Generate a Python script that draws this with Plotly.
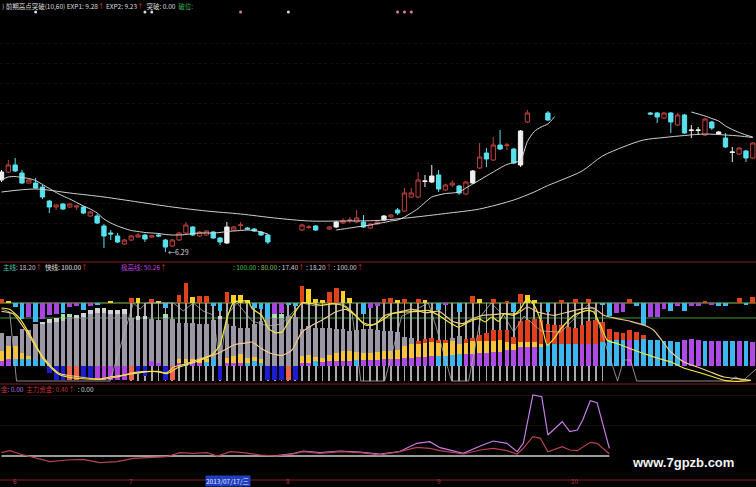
import plotly.graph_objects as go

W, H = 756, 487

# ---------------- price panel (candles) ----------------
OPEN = [7.73, 7.89, 8.03, 7.87, 7.67, 7.67, 7.59, 7.31, 7.19, 7.25,
        7.19, 7.19, 7.19, 7.01, 7.01, 6.81, 6.67, 6.61, 6.45, 6.53,
        6.59, 6.63, 6.59, 6.63, 6.53, 6.41, 6.53, 6.67, 6.79, 6.61,
        6.63, 6.69, 6.57, 6.47, 6.73, 6.82, 6.77, 6.75, 6.69, 6.63,
        None, None, None, None, 6.73, 6.78, 6.81, None, 6.75, 6.79,
        6.87, 6.92, 6.89, 6.89, 6.77, 6.85, 6.93, 6.99, 7.13, 7.11,
        7.39, 7.39, 7.70, 7.69, 7.83, 7.53, 7.63, 7.61, 7.45, 7.67,
        7.97, 8.27, 8.13, 8.43, 8.42, 8.35, 8.03, 8.89, None, None,
        9.07, None, None, None, None, None, None, None, None, None,
        None, None, None, None, None, 9.07, 9.07, 8.97, 9.07, 8.83,
        9.03, 8.72, 8.72, 8.63, 8.89, 8.65, 8.57, 8.28, 8.25, 8.31, 8.17]
HIGH = [7.93, 8.13, 8.17, 7.93, 7.75, 7.77, 7.63, 7.33, 7.24, 7.27,
        7.27, 7.21, 7.21, 7.11, 7.05, 6.85, 6.73, 6.67, 6.55, 6.63,
        6.67, 6.65, 6.63, 6.67, 6.55, 6.55, 6.69, 6.89, 6.81, 6.71,
        6.73, 6.71, 6.59, 6.89, 6.81, 6.89, 6.79, 6.77, 6.71, 6.65,
        None, None, None, None, 6.85, 6.83, 6.83, None, 6.81, 6.91,
        6.97, 6.99, 7.13, 7.03, 6.87, 6.91, 7.03, 7.05, 7.17, 7.57,
        7.57, 7.89, 7.83, 8.03, 7.93, 7.65, 7.73, 7.63, 7.71, 7.93,
        8.47, 8.37, 8.59, 8.73, 8.47, 8.37, 8.73, 9.13, None, None,
        9.11, None, None, None, None, None, None, None, None, None,
        None, None, None, None, None, 9.09, 9.09, 9.09, 9.09, 9.07,
        9.05, 8.83, 8.79, 8.97, 8.91, 8.71, 8.67, 8.39, 8.39, 8.33, 8.49]
LOW = [7.69, 7.87, 7.89, 7.65, 7.65, 7.55, 7.35, 7.07, 7.13, 7.13,
       7.17, 7.13, 7.05, 6.99, 6.85, 6.37, 6.53, 6.47, 6.43, 6.51,
       6.57, 6.49, 6.57, 6.59, 6.29, 6.39, 6.51, 6.65, 6.61, 6.59,
       6.61, 6.55, 6.43, 6.45, 6.71, 6.73, 6.73, 6.69, 6.61, 6.45,
       None, None, None, None, 6.71, 6.75, 6.71, None, 6.73, 6.77,
       6.85, 6.87, 6.87, 6.77, 6.75, 6.83, 6.91, 6.97, 7.03, 7.09,
       7.37, 7.37, 7.59, 7.67, 7.49, 7.51, 7.59, 7.43, 7.43, 7.65,
       7.95, 7.99, 8.11, 8.33, 8.33, 8.05, 7.99, 8.87, None, None,
       8.91, None, None, None, None, None, None, None, None, None,
       None, None, None, None, None, 9.03, 8.87, 8.95, 8.67, 8.81,
       8.65, 8.57, 8.63, 8.61, 8.73, 8.63, 8.37, 8.09, 8.23, 8.09, 8.15]
CLOSE = [7.89, 8.03, 7.91, 7.67, 7.73, 7.57, 7.39, 7.19, 7.23, 7.15,
         7.25, 7.21, 7.07, 7.09, 6.87, 6.61, 6.65, 6.49, 6.53, 6.61,
         6.63, 6.55, 6.61, 6.61, 6.39, 6.53, 6.67, 6.83, 6.63, 6.69,
         6.71, 6.57, 6.49, 6.79, 6.79, 6.83, 6.75, 6.71, 6.63, 6.49,
         None, None, None, None, 6.83, 6.79, 6.73, None, 6.79, 6.89,
         6.91, 6.93, 6.97, 6.79, 6.85, 6.89, 7.01, 7.03, 7.07, 7.47,
         7.47, 7.73, 7.71, 7.81, 7.55, 7.63, 7.67, 7.47, 7.69, 7.91,
         8.19, 8.15, 8.43, 8.35, 8.43, 8.07, 8.71, 9.07, None, None,
         8.93, None, None, None, None, None, None, None, None, None,
         None, None, None, None, None, 9.05, 8.99, 9.07, 8.89, 9.03,
         8.67, 8.73, 8.73, 8.95, 8.77, 8.69, 8.39, 8.29, 8.37, 8.17, 8.47]
# w = white candle, r = red hollow, c = cyan filled, . = not drawn
KIND = ("wrccrcccrc" "rrcrccccrr" "rcrccrrrcr" "rccwrrcccc" "....rrc.rw"
        "rrrcrrwrcr" "rrwwcrrcrw" "rcrcrcwr.." "c........." ".....ccrcr"
        "cwwrcwcwrcr")

MA_S = [7.74, 7.79, 7.80, 7.78, 7.76, 7.72, 7.64, 7.56, 7.48, 7.41,
        7.35, 7.28, 7.21, 7.15, 7.07, 6.95, 6.87, 6.81, 6.76, 6.72,
        6.70, 6.68, 6.67, 6.66, 6.64, 6.63, 6.63, 6.64, 6.66, 6.67,
        6.67, 6.67, 6.68, 6.70, 6.71, 6.72, 6.73, 6.72, 6.69, 6.65,
        None, None, None, None, None, None, None, None, None, 6.73,
        6.75, 6.77, 6.79, 6.81, 6.83, 6.86, 6.88, 6.91, 6.93, 6.99,
        7.07, 7.16, 7.28, 7.39, 7.43, 7.46, 7.47, 7.49, 7.57, 7.65,
        7.73, 7.81, 7.89, 7.97, 8.04, 8.08, 8.12, 8.50, 8.70, 8.79,
        8.85, 9.00, None, None, None, None, None, None, None, None,
        None, None, None, None, None, None, None, None, None, None,
        None, 9.09, 9.05, 9.01, 8.96, 8.91, 8.81, 8.74, 8.68, 8.63, 8.59]
MA_L_IDX = [0, 5, 10, 15, 20, 25, 30, 35, 40, 45, 50, 55, 60, 65, 70, 75, 78,
            80, 82, 85, 88, 91, 94, 97, 100, 103, 106, 108, 110]
MA_L = [7.49, 7.55, 7.47, 7.39, 7.29, 7.19, 7.11, 7.05, 6.97, 6.91, 6.91, 6.92,
        6.98, 7.06, 7.15, 7.33, 7.49, 7.62, 7.73, 7.91, 8.21, 8.39, 8.53, 8.58,
        8.62, 8.65, 8.63, 8.61, 8.58]
SIGNAL_IDX = [5, 21, 22, 35, 42, 58, 59, 60]
SIGNAL_COL = ["w", "w", "w", "p", "w", "p", "p", "p"]
SIGNAL_LEVEL = 11.09
LOW_MARK_IDX, LOW_MARK_VAL = 24, 6.29
PRICE_GRID = [6.47, 6.87, 7.27, 7.67, 8.07, 8.47, 8.87, 9.27, 9.67, 10.07, 10.47]

# ---------------- indicator panel (stacked columns) ----------------
BASE_H = [5, 6.7, 6.7, 6.7, 6.7, 6.7, 5.7, 0, 0, 0,
          0, 0, 0, 0, 0, 0, 0, 0, 0, 0,
          0, 0, 5, 3.3, 0, 0, 3.3, 3.3, 3.3, 3.3,
          4.3, 6.7, 0, 3.3, 3.3, 3.3, 3.3, 5, 3.3, 0,
          0, 0, 0, 0, 3.3, 3.3, 5, 4, 5, 5,
          5, 5, 5.7, 5.7, 5.7, 5.7, 6.7, 6.7, 6.7, 7.7,
          7.7, 9, 9, 10, 10, 10, 11, 11.7, 11.7, 12.3,
          13.3, 13.3, 14.3, 14.3, 15.7, 15.7, 19, 19, 19, 19,
          22.3, 22.3, 22.3, 22.3, 22.3, 22.3, 22.3, 22.3, 24, 25.7,
          25.7, 25.7, 25.7, 25.7, 26.7, 25.7, 25.7, 24.7, 24.7, 24,
          25.7, 26.7, 25.7, 24.7, 24.7, 24.7, 24.7, 24.7, 24.7, 24.7, 24]
BASE_C = ("mmcccccmmm" "mmmmmmmmmm" "mmmmmmmcmm" "ccmmmmcccm" "mmmmmmcmmm"
          "mmcmmmmmmm" "mmmmccccmm" "mmmmmmmmmc" "cccccmmmcc" "ccmccccccc"
          "mmmcmmccmcm")
YEL_H = [10, 13.3, 13.3, 6.7, 3.3, 0, 0, 0, 0, 0,
         0, 0, 0, 0, 0, 0, 0, 0, 0, 0,
         0, 0, 0, 0, 0, 0, 3.3, 3.3, 3.3, 3.3,
         2.3, 0, 0, 5, 6.7, 8.3, 5, 4, 3.3, 0,
         0, 0, 0, 0, 6.7, 7.7, 4, 4.3, 6, 8.3,
         10, 10, 8.7, 7.7, 7.7, 8.7, 8.3, 8.3, 9, 12.3,
         14, 13.3, 14.3, 14.3, 13.3, 13.3, 14, 10, 11.7, 12.7,
         11.7, 11.7, 10.7, 11.3, 8.3, 6.7, 5, 5, 5, 3.3,
         0, 0, 0, 0, 0, 0, 0, 0, 0, 0,
         0, 0, 0, 0, 0, 0, 0, 0, 0, 0,
         0, 0, 0, 0, 0, 0, 0, 0, 0, 0, 0]
TOP_H = [18.3, 10, 10, 23.3, 25.7, 35, 36, 43.3, 44.3, 45,
         49, 47.7, 49, 51.7, 53.3, 53.3, 51.7, 51.7, 51.7, 48.3,
         45.7, 46.7, 41.7, 42.3, 48.3, 46.7, 36.7, 36.7, 36.7, 35.7,
         35, 39, 46.7, 33.3, 30, 26.7, 30, 32.7, 38.3, 50,
         48.3, 48.3, 50, 49, 26.7, 29, 29.3, 30, 27.3, 23.3,
         21.7, 20, 21.3, 23.3, 23.3, 21.3, 20, 20, 18.7, 9,
         6, 2.7, 3.3, 3.3, 2.3, 2.3, 3.3, 8.3, 3.3, 3.3,
         6, 8.3, 10.7, 10, 11.7, 6.7, 20.7, 21.7, 23.3, 23.3,
         20, 19, 18.3, 16.7, 15.7, 18.3, 22.3, 23.3, 20, 11.7,
         8.3, 7.7, 10, 8.3, 4, 0, 0, 0, 0, 0,
         0, 0, 0, 0, 0, 0, 0, 0, 0, 0, 0]
TOP_C = ("gggggggggg" "gggggggggg" "gggggggggg" "gggggggggg" "gggggggggg"
         "gggggggggg" "grrrrrggrr" "rrrrrrrrrr" "rrrrrrrrrr" "rrrrrrrrrr"
         "rrrrrrrrrrr")
CAP_IDX = [6, 7, 8, 9, 10, 11, 12, 13, 14, 15, 16, 17, 18, 20, 21, 24, 32, 39, 40, 41]
CAP_H = [2.7, 3.3, 3.3, 6.7, 2.7, 3, 4.3, 4, 5, 4.3, 4, 4, 5, 4.3, 3.3, 3.3, 3.3, 3.3, 5, 3.3]
CAP_C = "lllee" "llllllll" "ll" "ell" "ee"
NEG_IDX = [7, 8, 9, 10, 11, 12, 13, 14, 15, 16, 17, 18, 19, 20, 21, 24, 25, 32, 39, 40, 41, 42, 43]
NEG_H = [6.7, 14.3, 14.3, 14.3, 14.3, 11.7, 11.7, 14.3, 14.3, 14.3, 14.3, 14.3,
         14.3, 8.3, 10, 14.3, 14.3, 14.3, 14.3, 14.3, 14.3, 14.3, 14.3]
NEG_C = "bbbssbbmmmmmsbbbsbbbbsb"
SMALL = [3.7, 1.7, -4, -15.7, -14, -19, -16.3, -12.3, -10.7, -9.7,
         -4, -3, -7.3, -3, -2.3, 0, 1.7, 0, 0, 5.3,
         5.3, 0, 3.7, 1.7, -5, 0, 8.3, 20, 6, 7,
         7, -3, -8.3, 11, 8.3, 8.3, 2.7, -5, -6.3, -15,
         -10.7, -9.7, -2.3, -3, 17, 13.7, 3.7, 2.7, 11, 15,
         11.7, 5, 0, -10.7, -5, -3, 3.7, 5, 2.7, 3.7,
         0, 3.7, 2.7, 0, -7.3, -2.3, 0, -9, 0, 7,
         3.7, 0, 3.7, 0, 1.5, -9, 9.3, 8.3, 2.7, 0,
         -9, 0, 2.7, 0, 3.7, 0, 3.7, 0, -1.7, -13.3,
         -9.7, -9, 3.7, -3, -21.7, -14, -14, -6.3, -8.3, -3,
         -8.3, -3, -3, 1.7, -2.3, -3, -3, 0, 5.3, -1.7, 6]
SMALL_C = ("ryccmcmmmc" "mmcmcryrrr" "yrrycrrryr" "rccryyyccc" "mmccryyyrr"
           "yyrcmmrryr" "rryrcmrcrr" "yrrrrcryyr" "crrrrrrrcc" "mmrccmmmcm"
           "cmmrmccrrcr")
SMALL_BASE = 63
LEVEL_HI, LEVEL_LO = 63, 48
STICK_IDX = list(range(19, 89))
STICK_BOTTOM, STICK_TOP = -15, 63

YEL_X = [0, 1.2, 2.7, 4.6, 6.1, 7.6, 8.6, 10.5, 12.5, 14.4, 15.9, 18.4, 20.3, 22.8, 24.2,
         25.7, 27.6, 29.1, 31, 32, 33, 34, 36.1, 36.7, 38.1, 39.1, 40.1, 41.1, 42, 43, 44,
         45.5, 46.9, 48.4, 49.9, 51.3, 52.8, 54.2, 55.7, 57.2, 59.1, 61.1, 62.5, 64, 65.5,
         66.9, 68.4, 69.9, 70.8, 71.8, 72.8, 73.6, 75, 76, 77, 78, 79, 79.9, 80.9, 81.9,
         82.8, 83.8, 85.8, 86.7, 87.7, 88.7, 90.2, 92.1, 94.1, 96, 98, 99.9, 101.9, 103.8,
         105.8, 107.7, 109.7]
YEL_Y = [58, 56.7, 47.3, 26, 7.3, -4, -9, -12, -13, -13, -11, -8.7, -6.7, -5.3, -7.7,
         -2, 2.3, 5.7, 12.3, 21, 47.3, 64, 64.7, 57.3, 50.7, 37.3, 33.3, 34, 44, 54, 63.3,
         62.3, 60.7, 62.3, 60.7, 54, 44, 40.7, 45.7, 52.3, 54, 54.7, 55.7, 50.7, 44,
         39, 44, 47.3, 44, 49, 44.7, 52.3, 50.7, 57.3, 67.3, 60.7, 44, 20.7, 27.3, 37.3,
         44, 50.7, 55.7, 54, 40.7, 25.7, 22.3, 17.3, 12.3, 8, 4, -2, -6, -10,
         -14.3, -15.3, -14.3]
PEACH_X = [0, 1.7, 3.7, 5.2, 7.1, 8.6, 10.5, 14.4, 16.9, 19.3, 22.2, 24.2, 25.2, 27.1, 29.1,
           31, 33, 33.9, 34.9, 36.1, 36.7, 38.1, 39.6, 41.1, 42.5, 44, 45.5, 46.9, 48.9,
           50.4, 51.8, 53.3, 54.8, 56.2, 58.2, 60.2, 62.1, 64.1, 66, 67.5, 69, 70.4, 71.9,
           73.3, 75.5, 77, 78.5, 80.9, 83.3, 85.3, 86.7, 88.2, 90.2, 92.1, 94.1, 95.5, 96.5,
           98, 99.9, 101.9, 103.8, 105.8, 107.7, 109.7]
PEACH_Y = [54.7, 52.3, 34, 17.3, 0.7, -7.7, -10, -13.3, -11, -6.7, -5.3, -6.7, -1, 2.3, 7.3,
           10.7, 17.3, 20.7, 22.3, 23.3, 24, 17.3, 12.3, 10.7, 15.7, 34, 40.7, 45.7, 54,
           56.7, 50.7, 40.7, 42.3, 50.7, 54, 56.7, 53.3, 54.7, 44.7, 42.3, 47.3, 50.7, 51.3,
           52.3, 52.3, 59, 54, 50.7, 54.7, 57.3, 58, 50.7, 47.3, 44.7, 40.7, 35.7, 27.3,
           14, 4, -1, -6, -11, -12.7, -14.3]
GRAY_X = [0, 1.2, 2.2, 15.9, 19.3, 20.3, 21.2, 25.2, 26.6, 28.1, 29.5, 31, 32, 33, 34.5,
          36.7, 39, 41, 44, 46, 49.9, 51.3, 52.6, 56.1, 58.6, 60, 62.5, 63.6, 65.9, 68.4,
          70.2, 71.7, 73.6, 75, 76.5, 79, 81.9, 85.8, 86.7, 90.2, 91.1, 92.1, 93, 106.6,
          107.5, 108.5, 110.5]
GRAY_Y = [57, 54, -15, -15, 63, 57, 63, 63, 55, 63, 55, 51, 0, 51, 63,
          45, 40, 42, 63, 60, 63, 55, -15, -15, 50, 54, 63, 40, -15, -15,
          50, 63, 50, 34, 50, 35, 34, 60.7, 57.3, -15, 6, 6, -15, -15,
          -11, -15, -3]

# ---------------- capital-flow panel ----------------
FUND_RED_X = [0, 1.2, 2.7, 4.6, 7.1, 9.6, 11.9, 14.4, 16.9, 19.3, 21.7, 24.2, 26.1, 28.1,
              30.1, 31.6, 33.5, 35.4, 37.9, 40.3, 42.7, 44.2, 46.6, 49.6, 52.5, 55.4, 58.3,
              60.8, 62.7, 64.2, 67.6, 70.1, 72, 74, 75.5, 76.4, 77.8, 78.9, 80, 82.1, 83.2,
              84.3, 86.2, 87.2, 89]
FUND_RED_Y = [0.33, 0.53, 0.2, -0.1, -0.57, -0.4, -0.33, -0.67, -0.57, -0.23, -0.13, -0.07,
              0.33, 0.27, 0.33, 0, 0.43, 0.33, 0.1, 0, 0.2, 0.43, 0.27, 0.43, 0.33, 0.1, 0.43,
              0.87, 0.77, 0.53, 0.2, 0.6, 0.77, 0.53, 0.2, 0.77, 1.93, 1.77, 0.43, 0.93, 0.6,
              0.53, 1.37, 1.27, 0.2]
FUND_PUR_X = [40.3, 42.7, 44.2, 46.6, 49.6, 52.5, 55.4, 58.3, 60.8, 62.7, 64.2, 67.6, 70.1,
              72, 74, 75.5, 76.4, 77.8, 79.1, 80, 82.1, 83.2, 84.3, 85.1, 86.2, 87.2, 89]
FUND_PUR_Y = [0.05, 0.25, 0.5, 0.35, 0.5, 0.4, 0.2, 0.45, 1.27, 1.43, 0.83, 0.27, 1.0,
              1.5, 1.27, 0.43, 1.27, 6.1, 5.93, 2.1, 3.43, 2.43, 2.6, 3.6, 5.53, 5.33, 0.77]
FUND_ZERO_X = [0, 89]
FUND_ZERO_Y = [0, 0]
FUND_GRID = [3.1, 6.1]

TICK_IDX = [2, 19, 42, 64, 84]
TICK_TXT = ["6", "7", "8", "9", "10"]
CURSOR_IDX, CURSOR_TXT = 33.2, "2013/07/17/三"

N = len(OPEN)
IDX = list(range(N))
for arr in (HIGH, LOW, CLOSE, MA_S, BASE_H, YEL_H, TOP_H, SMALL):
    assert len(arr) == N, len(arr)
for s in (KIND, BASE_C, TOP_C, SMALL_C):
    assert len(s) == N, len(s)
assert len(CAP_C) == len(CAP_IDX) == len(CAP_H)
assert len(NEG_C) == len(NEG_IDX) == len(NEG_H)

# ---------------- colours ----------------
RED_K = "#c0403c"
CYAN_K = "#58e2ee"
WHITE_K = "#f0f0f0"
BASE_COL = {"m": "#b04ae6", "c": "#3cb6f0"}
TOP_COL = {"g": "#9a96a4", "r": "#e0401e"}
CAP_COL = {"l": "#d4d4d4", "e": "#a8dca8"}
NEG_COL = {"b": "#1c1cd2", "s": "#f0644e", "m": "#b040e0"}
SMALL_COL = {"r": "#e0421c", "y": "#ffd024", "c": "#3cbcf0", "m": "#a845e0"}
SEP = "#8a1c1c"
FONT = "Noto Sans CJK SC, Noto Sans, sans-serif"

fig = go.Figure()

def add_candles(kind, up_line, up_fill, dn_line, dn_fill):
    xs = [i for i in IDX if KIND[i] == kind]
    fig.add_trace(go.Candlestick(
        x=xs, open=[OPEN[i] for i in xs], high=[HIGH[i] for i in xs],
        low=[LOW[i] for i in xs], close=[CLOSE[i] for i in xs],
        increasing=dict(line=dict(color=up_line, width=1), fillcolor=up_fill),
        decreasing=dict(line=dict(color=dn_line, width=1), fillcolor=dn_fill),
        whiskerwidth=0, hoverinfo="skip", xaxis="x", yaxis="y"))

fig.add_trace(go.Scatter(x=MA_L_IDX, y=MA_L, mode="lines", xaxis="x", yaxis="y",
                         line=dict(color="#cfcfcf", width=1, shape="spline", smoothing=0.8),
                         hoverinfo="skip"))
fig.add_trace(go.Scatter(x=IDX, y=MA_S, mode="lines", xaxis="x", yaxis="y",
                         line=dict(color="#d8d8d8", width=1, shape="spline", smoothing=0.6),
                         connectgaps=False, hoverinfo="skip"))
add_candles("r", RED_K, "#000000", RED_K, "#000000")
add_candles("c", CYAN_K, CYAN_K, CYAN_K, CYAN_K)
add_candles("w", WHITE_K, WHITE_K, WHITE_K, WHITE_K)
fig.add_trace(go.Scatter(x=SIGNAL_IDX, y=[SIGNAL_LEVEL] * len(SIGNAL_IDX), mode="markers",
                         xaxis="x", yaxis="y", hoverinfo="skip",
                         marker=dict(size=3, color=["#d8d8d8" if c == "w" else "#e07aa8"
                                                    for c in SIGNAL_COL])))

# indicator: stick lines behind the columns
fig.add_trace(go.Bar(x=STICK_IDX, y=[STICK_TOP - STICK_BOTTOM] * len(STICK_IDX),
                     base=STICK_BOTTOM, width=0.12, marker=dict(color="#a9a9a9", line_width=0),
                     xaxis="x", yaxis="y2", hoverinfo="skip"))
lvl1 = BASE_H
lvl2 = [a + b for a, b in zip(BASE_H, YEL_H)]
lvl3 = [a + b for a, b in zip(lvl2, TOP_H)]
BW = 0.7
fig.add_trace(go.Bar(x=IDX, y=BASE_H, base=[0] * N, width=BW,
                     marker=dict(color=[BASE_COL[c] for c in BASE_C], line_width=0),
                     xaxis="x", yaxis="y2", hoverinfo="skip"))
fig.add_trace(go.Bar(x=IDX, y=YEL_H, base=lvl1, width=BW,
                     marker=dict(color="#f6c43a", line_width=0),
                     xaxis="x", yaxis="y2", hoverinfo="skip"))
fig.add_trace(go.Bar(x=IDX, y=TOP_H, base=lvl2, width=BW,
                     marker=dict(color=[TOP_COL[c] for c in TOP_C], line_width=0),
                     xaxis="x", yaxis="y2", hoverinfo="skip"))
fig.add_trace(go.Bar(x=CAP_IDX, y=CAP_H, base=[lvl3[i] for i in CAP_IDX], width=BW,
                     marker=dict(color=[CAP_COL[c] for c in CAP_C], line_width=0),
                     xaxis="x", yaxis="y2", hoverinfo="skip"))
fig.add_trace(go.Bar(x=NEG_IDX, y=[-h for h in NEG_H], base=[0] * len(NEG_IDX), width=BW,
                     marker=dict(color=[NEG_COL[c] for c in NEG_C], line_width=0),
                     xaxis="x", yaxis="y2", hoverinfo="skip"))
fig.add_trace(go.Bar(x=IDX, y=SMALL, base=SMALL_BASE, width=BW,
                     marker=dict(color=[SMALL_COL[c] for c in SMALL_C], line_width=0),
                     xaxis="x", yaxis="y2", hoverinfo="skip"))
fig.add_trace(go.Scatter(x=GRAY_X, y=GRAY_Y, mode="lines", xaxis="x", yaxis="y2",
                         line=dict(color="#b0b0b0", width=0.8), hoverinfo="skip"))
fig.add_trace(go.Scatter(x=PEACH_X, y=PEACH_Y, mode="lines", xaxis="x", yaxis="y2",
                         line=dict(color="#f2c88e", width=1.2, shape="spline", smoothing=0.5),
                         hoverinfo="skip"))
fig.add_trace(go.Scatter(x=YEL_X, y=YEL_Y, mode="lines", xaxis="x", yaxis="y2",
                         line=dict(color="#f2ea3a", width=1.2, shape="spline", smoothing=0.5),
                         hoverinfo="skip"))

# capital flow
fig.add_trace(go.Scatter(x=FUND_ZERO_X, y=FUND_ZERO_Y, mode="lines", xaxis="x", yaxis="y3",
                         line=dict(color="#cfcfcf", width=1.5), hoverinfo="skip"))
fig.add_trace(go.Scatter(x=FUND_PUR_X, y=FUND_PUR_Y, mode="lines", xaxis="x", yaxis="y3",
                         line=dict(color="#c67ee6", width=1.2), hoverinfo="skip"))
fig.add_trace(go.Scatter(x=FUND_RED_X, y=FUND_RED_Y, mode="lines", xaxis="x", yaxis="y3",
                         line=dict(color="#b8424e", width=1.2), hoverinfo="skip"))

def py(p):  # pixel row -> paper
    return 1 - p / H

def px(p):
    return p / W

shapes = [
    dict(type="line", xref="paper", yref="paper", x0=0, x1=1, y0=py(262), y1=py(262),
         line=dict(color=SEP, width=1)),
    dict(type="line", xref="paper", yref="paper", x0=0, x1=1, y0=py(384), y1=py(384),
         line=dict(color=SEP, width=1)),
    dict(type="line", xref="paper", yref="paper", x0=0, x1=1, y0=py(480), y1=py(480),
         line=dict(color=SEP, width=1)),
    dict(type="line", xref="paper", yref="y2", x0=0, x1=1, y0=LEVEL_HI, y1=LEVEL_HI,
         line=dict(color="#8cc24c", width=1), layer="below"),
    dict(type="line", xref="paper", yref="y2", x0=0, x1=1, y0=LEVEL_LO, y1=LEVEL_LO,
         line=dict(color="#3c9a3c", width=1), layer="below"),
]

RA = "#e03434"
def c(txt, col):
    return f"<span style='color:{col}'>{txt}</span>"

ann = []
def label(xp, yp, text, size=6.5):
    ann.append(dict(xref="paper", yref="paper", x=px(xp), y=py(yp), text=text,
                    xanchor="left", yanchor="middle", showarrow=False,
                    font=dict(family=FONT, size=size, color="#dcdcdc")))

SP = "&nbsp;"
label(0, 6, c(")" + SP + "前期高点突破(10,60)", "#dcdcdc") + SP + c("EXP1: 9.28", "#dcdcdc")
      + c("↑", RA) + SP + c("EXP2: 9.23", "#dcdcdc") + c("↑", RA) + SP + SP
      + c("突破: 0.00", "#dcdcdc") + SP + SP + c("破位:", "#3cb050"))
label(1, 267, c("主线", "#4ec8b2") + c(": 18.20", "#c8c8c8") + c("↑", RA) + SP + SP
      + c("快线", "#e0e0e0") + c(": 100.00", "#e0e0e0") + c("↑", RA))
label(119, 267, c("极高线: 50.26", "#c040e0") + c("↑", RA))
label(231, 267, c(": 100.00", "#40c040") + SP + c(": 80.00", "#86c050") + SP
      + c(": 17.40", "#d0d0d0") + c("↑", RA) + SP + c(": 18.20", "#d0d0d0") + c("↑", RA)
      + SP + c(": 100.00", "#d0d0d0") + c("↑", RA))
label(-1, 389, c("金", "#c83040") + c(": 0.00", "#b070e0") + SP + SP
      + c("主力资金: 0.40", "#c43434") + c("↑", RA) + SP + SP + c(": 0.00", "#d0d0d0"))

ann.append(dict(xref="x", yref="y", x=LOW_MARK_IDX, y=LOW_MARK_VAL,
                text="←" + f"{LOW_MARK_VAL:.2f}", xanchor="left", yanchor="middle",
                xshift=1, showarrow=False, font=dict(family=FONT, size=7, color="#d8d8d8")))
for t_idx, t_txt in zip(TICK_IDX, TICK_TXT):
    ann.append(dict(xref="x", yref="paper", x=t_idx, y=0, text=t_txt, xanchor="center",
                    yanchor="bottom", showarrow=False, borderpad=0,
                    font=dict(family=FONT, size=6.5, color="#b03a3a")))
ann.append(dict(xref="x", yref="paper", x=CURSOR_IDX, y=0, text=CURSOR_TXT,
                xanchor="center", yanchor="bottom", showarrow=False, bgcolor="#1f3fbf",
                borderpad=0, font=dict(family=FONT, size=6.5, color="#e8e8ff")))
ann.append(dict(xref="paper", yref="paper", x=px(683), y=py(462), text="<b>www.7gpzb.com</b>",
                xanchor="center", yanchor="middle", showarrow=False,
                font=dict(family="Liberation Sans, Arial, sans-serif", size=13, color="#f4f4f4")))

fig.update_layout(
    width=W, height=H, margin=dict(l=0, r=0, t=0, b=0, pad=0),
    paper_bgcolor="#000000", plot_bgcolor="#000000", showlegend=False,
    barmode="overlay", bargap=0, boxgap=0.1,
    xaxis=dict(domain=[0, 1], range=[-0.22, 110.47], anchor="y3", showgrid=False,
               zeroline=False, showticklabels=False, showline=False, ticks="",
               rangeslider=dict(visible=False), fixedrange=True),
    yaxis=dict(domain=[py(262), 1], range=[6.09, 11.33], tickvals=PRICE_GRID,
               showticklabels=False, zeroline=False, showline=False,
               gridcolor="#1c0c0c", griddash="dot", gridwidth=1, fixedrange=True),
    yaxis2=dict(domain=[py(386), py(268)], range=[-20, 98], showgrid=False,
                showticklabels=False, zeroline=False, showline=False, fixedrange=True),
    yaxis3=dict(domain=[py(480), py(386)], range=[-2.4, 7.0], tickvals=FUND_GRID,
                showticklabels=False, zeroline=False, showline=False,
                gridcolor="#1e0e0e", gridwidth=1, fixedrange=True),
    shapes=shapes, annotations=ann,
    font=dict(family=FONT),
)

fig.write_html("out.html", config={"displayModeBar": False},
               post_script="document.body.style.margin='0px';document.body.style.padding='0px';")
